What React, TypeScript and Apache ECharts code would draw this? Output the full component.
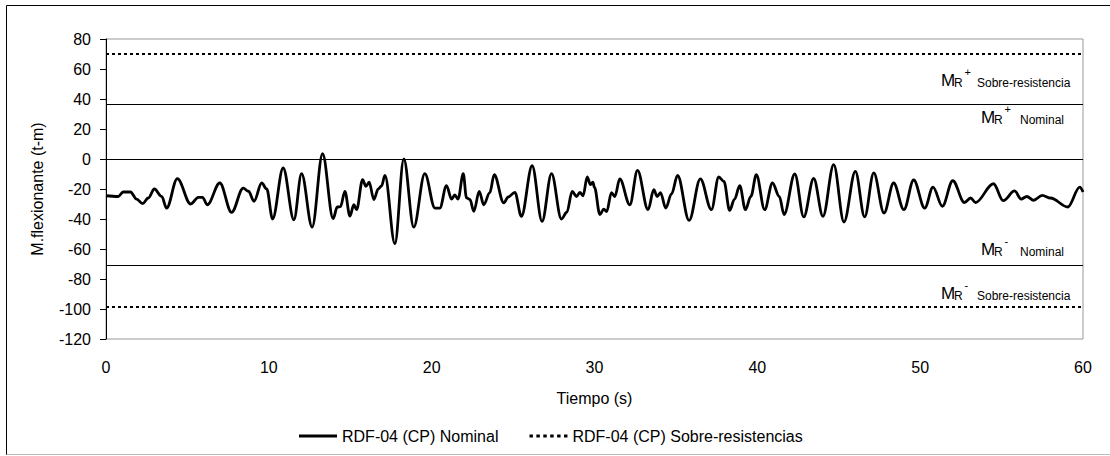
import React, { useEffect, useRef } from "react";
import * as echarts from "echarts";

// Time (s) of the traced turning points of the response
const timeS = [
  0, 0.75, 1.05, 1.5, 1.88, 2.25, 2.6, 2.97, 3.42, 3.72, 4.38, 5.2, 5.67, 5.93, 6.22, 6.99, 7.71, 8.43, 8.75, 9.09,
  9.56, 9.87, 10.23, 10.88, 11.54, 12.01, 12.66, 13.3, 13.95, 14.2, 14.4, 14.67, 14.98, 15.22, 15.39, 15.76, 15.96,
  16.16, 16.45, 16.72, 16.92, 17.13, 17.74, 18.29, 18.9, 19.58, 20.2, 20.5, 20.91, 21.22, 21.42, 21.62, 21.94, 22.14,
  22.35, 22.59, 22.92, 23.2, 23.57, 23.84, 24.43, 24.7, 25.11, 25.51, 26.17, 26.78, 27.36, 27.97, 28.3, 28.63, 28.9,
  29.1, 29.3, 29.55, 29.75, 29.9, 30.0, 30.33, 30.57, 30.75, 31.04, 31.25, 31.55, 32.17, 32.64, 33.29, 33.64, 33.85,
  34.05, 34.38, 34.73, 35.1, 35.81, 36.5, 37.18, 37.63, 37.95, 38.3, 38.6, 38.92, 39.27, 39.6, 39.94, 40.45, 40.93,
  41.35, 41.64, 42.3, 42.85, 43.46, 44.03, 44.69, 45.32, 46.02, 46.59, 47.15, 47.78, 48.37, 49.0, 49.6, 50.28, 50.79,
  51.36, 52.0, 52.72, 53.1, 53.4, 54.5, 55.1, 55.8, 56.2, 56.55, 56.97, 57.5, 58.0, 59.07, 59.8, 60,
];

// Bending moment (t-m) at those instants
const momentTm = [
  -24.5, -25, -22, -22, -26.7, -29.8, -26, -20, -25, -32.7, -13.1, -30, -25.6, -25.6, -30.5, -16, -35.6, -19.4, -21.5,
  -28.2, -16, -20, -40, -6, -40.5, -9.8, -45.4, 3.5, -39.8, -32, -31.7, -21.6, -38, -30.5, -33.7, -13.8, -18.2, -15.5,
  -27, -20, -18, -11, -56.5, 0, -45.4, -9.8, -32.7, -32.7, -17.8, -26.7, -24, -26.7, -9.8, -25.9, -27, -34.9, -21.6,
  -30.5, -22.4, -10.5, -29.3, -25.3, -22.2, -38.2, -4.5, -41.6, -9.8, -40, -35.5, -21.6, -25, -22.2, -24.5, -12, -17,
  -15.5, -19, -37, -33.5, -35, -22.4, -25, -13.3, -30.5, -7.6, -33.8, -20.5, -25, -22.4, -32.7, -23.3, -11, -40.9,
  -13.3, -33.8, -12, -15, -34.3, -26.7, -17.8, -33.8, -25, -10.5, -33.8, -16, -25, -37, -10, -38.6, -13, -38.2, -3.8,
  -42, -8.2, -38.6, -9.3, -36, -16, -33.8, -14, -32.7, -18.7, -31.5, -14.5, -29, -26, -29, -16.5, -27.8, -21.3, -26.7,
  -25, -27.5, -24.2, -26, -32, -18.8, -22,
];

// Capacity limits (t-m)
const nominalLimits = [36.8, -71];
const overLimits = [70, -98.5];

const seriesNames = ["RDF-04 (CP) Nominal", "RDF-04 (CP) Sobre-resistencias"];
const xTitle = "Tiempo (s)";
const yTitle = "M.flexionante (t-m)";

const FONT = "'Liberation Sans', Arial, sans-serif";

const SOLID_ICON = "path://M0,0h36v3h-36z";
const DOTTED_ICON =
  "path://M0,0h3v3h-3z M6,0h3v3h-3z M12,0h3v3h-3z M18,0h3v3h-3z M24,0h3v3h-3z M30,0h3v3h-3z";

function limitLabel(
  mx: number,
  baseline: number,
  sign: string,
  word: string,
  wordOffset: number
) {
  return {
    type: "group",
    silent: true,
    children: [
      {
        type: "text",
        x: mx,
        y: baseline - 5.9,
        style: { text: "M", font: `17px ${FONT}`, fill: "#000", verticalAlign: "middle", align: "left" },
      },
      {
        type: "text",
        x: mx + 13,
        y: baseline + 1 - 4.2,
        style: { text: "R", font: `12px ${FONT}`, fill: "#000", verticalAlign: "middle", align: "left" },
      },
      {
        type: "text",
        x: mx + 23.5,
        y: baseline - 11 - 3.9,
        style: { text: sign, font: `11px ${FONT}`, fill: "#000", verticalAlign: "middle", align: "left" },
      },
      {
        type: "text",
        x: mx + wordOffset,
        y: baseline + 1 - 4.2,
        style: { text: word, font: `12px ${FONT}`, fill: "#000", verticalAlign: "middle", align: "left" },
      },
    ],
  };
}

export default function App() {
  const ref = useRef<HTMLDivElement>(null);

  useEffect(() => {
    if (!ref.current) return;
    const chart = echarts.init(ref.current, undefined, { renderer: "svg" });
    const data = timeS.map((t, i) => [t, momentTm[i]]);

    chart.setOption({
      animation: false,
      backgroundColor: "#fff",
      textStyle: { fontFamily: FONT },
      grid: {
        left: 106,
        right: 27,
        top: 39,
        bottom: 117,
        show: true,
        borderColor: "#999",
        borderWidth: 1,
        backgroundColor: "transparent",
      },
      legend: {
        left: 299,
        top: 428,
        padding: 0,
        itemGap: 31,
        itemWidth: 38,
        itemHeight: 3,
        symbolKeepAspect: false,
        data: [
          { name: seriesNames[0], icon: SOLID_ICON },
          { name: seriesNames[1], icon: DOTTED_ICON },
        ],
        itemStyle: { color: "#000", borderWidth: 0 },
        lineStyle: { opacity: 0 },
        textStyle: { fontSize: 16, color: "#000", fontFamily: FONT },
      },
      xAxis: {
        type: "value",
        min: 0,
        max: 60,
        interval: 10,
        name: xTitle,
        nameLocation: "middle",
        nameGap: 51,
        nameTextStyle: { fontSize: 16, color: "#000", fontFamily: FONT },
        axisLine: { show: true, lineStyle: { color: "#999", width: 1 } },
        axisTick: { show: false },
        splitLine: { show: false },
        axisLabel: { fontSize: 16, color: "#000", margin: 20, fontFamily: FONT },
      },
      yAxis: {
        type: "value",
        min: -120,
        max: 80,
        interval: 20,
        name: yTitle,
        nameLocation: "middle",
        nameGap: 61,
        nameTextStyle: { fontSize: 16, color: "#000", fontFamily: FONT },
        axisLine: { show: true, onZero: false, lineStyle: { color: "#000", width: 1 } },
        axisTick: { show: true, length: 6, lineStyle: { color: "#000", width: 1 } },
        splitLine: { show: false },
        axisLabel: { fontSize: 16, color: "#000", margin: 15, fontFamily: FONT },
      },
      series: [
        {
          name: seriesNames[0],
          type: "line",
          data,
          symbol: "none",
          showSymbol: false,
          smooth: 0.35,
          smoothMonotone: "x",
          lineStyle: { color: "#000", width: 2.8 },
          itemStyle: { color: "#000" },
          z: 5,
          markLine: {
            silent: true,
            symbol: "none",
            label: { show: false },
            lineStyle: { color: "#000", width: 1, type: "solid" },
            data: [{ yAxis: 0 }, ...nominalLimits.map((v) => ({ yAxis: v }))],
          },
        },
        {
          name: seriesNames[1],
          type: "line",
          data: [],
          symbol: "none",
          showSymbol: false,
          lineStyle: { color: "#000", width: 2, type: [2, 3] },
          itemStyle: { color: "#000" },
          markLine: {
            silent: true,
            symbol: "none",
            label: { show: false },
            lineStyle: { color: "#000", width: 2, type: [3, 3] },
            data: overLimits.map((v) => ({ yAxis: v })),
          },
        },
      ],
      graphic: [
        { type: "line", silent: true, shape: { x1: 6.5, y1: 5.5, x2: 1110, y2: 5.5 }, style: { stroke: "#000", lineWidth: 1 } },
        { type: "line", silent: true, shape: { x1: 6.5, y1: 5.5, x2: 6.5, y2: 455 }, style: { stroke: "#000", lineWidth: 1 } },
        { type: "line", silent: true, shape: { x1: 6.5, y1: 454.5, x2: 1110, y2: 454.5 }, style: { stroke: "#bbb", lineWidth: 1 } },
        limitLabel(941, 86.5, "+", "Sobre-resistencia", 36),
        limitLabel(981, 123.5, "+", "Nominal", 39),
        limitLabel(981, 255.5, "-", "Nominal", 39),
        limitLabel(941, 299.5, "-", "Sobre-resistencia", 36),
      ],
    });

    return () => chart.dispose();
  }, []);

  return (
    <div
      ref={ref}
      style={{ position: "absolute", left: 0, top: 0, width: 1110, height: 456 }}
    />
  );
}
